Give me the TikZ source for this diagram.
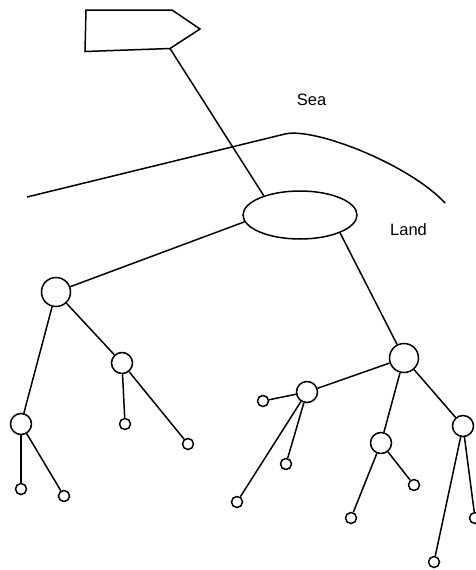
\documentclass[tikz,border=0pt]{standalone}
\usepackage{fontspec}
\setmainfont{Liberation Sans}
\usetikzlibrary{shapes.geometric}
\begin{document}
\begin{tikzpicture}[x=1pt,y=-1pt,line width=1.5pt,
  big/.style={circle,draw,inner sep=0pt,minimum size=29pt},
  mid/.style={circle,draw,inner sep=0pt,minimum size=21pt},
  leaf/.style={circle,draw,inner sep=0pt,minimum size=11pt},
  lbl/.style={font=\fontsize{16.5}{18}\selectfont,inner sep=0pt}]
\useasboundingbox (0,0) rectangle (475,570);

% ship marker
\draw (86,10) -- (172,10) -- (200,29) -- (170,48.5) -- (85,51.5) -- cycle;
\coordinate (ship) at (170,48.5);

% coastline
\draw (27,197) -- (285,134) .. controls (315,127) and (410,165) .. (445,203);

\node[lbl] (sea) at (311.5,99.5) {Sea};
\node[lbl] (land) at (408.5,230) {Land};

% hub
\node[ellipse,draw,inner sep=0pt,minimum width=114pt,minimum height=48pt] (hub) at (300,215) {};

% left tree
\node[big] (A) at (56,292) {};
\node[mid] (B) at (122,363) {};
\node[mid] (C) at (21,424) {};
\node[leaf] (b1) at (125,424) {};
\node[leaf] (b2) at (188,444) {};
\node[leaf] (c1) at (21,489) {};
\node[leaf] (c2) at (64,496) {};

% right tree
\node[big] (D) at (404,358) {};
\node[mid] (E) at (307,392) {};
\node[mid] (F) at (381,443) {};
\node[mid] (G) at (463,426) {};
\node[leaf] (e1) at (263,401) {};
\node[leaf] (e2) at (286,464) {};
\node[leaf] (e3) at (237,502) {};
\node[leaf] (f1) at (414,485) {};
\node[leaf] (f2) at (351,518) {};
\node[leaf] (g1) at (434,562) {};
\node[leaf] (g2) at (475,518) {};

% links
\draw (ship) -- (hub.152);
\draw (hub.187) -- (A);
\draw (hub.336) -- (D);
\draw (A) -- (B);
\draw (A) -- (C);
\draw (B) -- (b1);
\draw (B) -- (b2);
\draw (C) -- (c1);
\draw (C) -- (c2);
\draw (D) -- (E);
\draw (D) -- (F);
\draw (D) -- (G);
\draw (E) -- (e1);
\draw (E) -- (e2);
\draw (E) -- (e3);
\draw (F) -- (f1);
\draw (F) -- (f2);
\draw (G) -- (g1);
\draw (G) -- (g2);
\end{tikzpicture}
\end{document}
